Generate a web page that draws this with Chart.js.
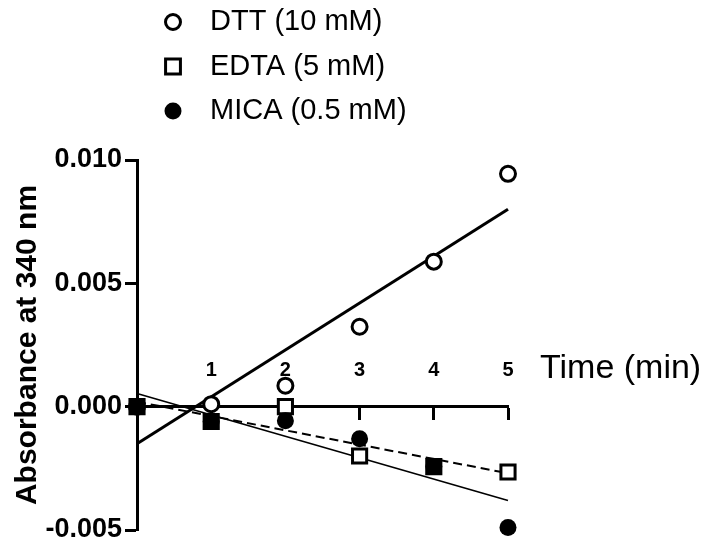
<!DOCTYPE html>
<html>
<head>
<meta charset="utf-8">
<script src="https://cdn.jsdelivr.net/npm/chart.js@4"></script>
<style>
  body { margin: 0; background: #fff; }
  canvas { display: block; }
</style>
</head>
<body>
<canvas id="absChart" width="714" height="551"></canvas>
<script>
const times = [0, 1, 2, 3, 4, 5];
const dtt = [0, 0.0001, 0.00085, 0.00324, 0.00588, 0.00944];
const edta = [0, -0.0006, 0.0000, -0.0020, -0.00243, -0.00265];
const mica = [0, -0.0006, -0.00057, -0.0013, -0.00243, -0.0049];

// fitted lines, end points
const fitX = [0, 5];
const dttFit = [-0.0015, 0.0080];
const edtaFit = [0.0002, -0.0027];
const micaFit = [0.00053, -0.0038];

const yTicks = [-0.005, 0, 0.005, 0.010];
const xTitle = 'Time (min)';
const yTitle = 'Absorbance at 340 nm';
const legendLabels = ['DTT (10 mM)', 'EDTA (5 mM)', 'MICA (0.5 mM)'];

const FONT = 'Arial, "Liberation Sans", sans-serif';
const pts = (xs, ys) => xs.map((x, i) => ({ x, y: ys[i] }));

const markers = [
  { style: 'circle', radius: 7.5, border: 3, fill: '#fff' },
  { style: 'rect', radius: 10.5, border: 3, fill: '#fff' },
  { style: 'circle', radius: 8.5, border: 0, fill: '#000' }
];

// titles and the stacked legend that sit outside the plot
const overlay = {
  id: 'overlay',
  afterDraw(chart) {
    const ctx = chart.ctx;
    const { right } = chart.chartArea;
    const y0 = chart.scales.y.getPixelForValue(0);
    ctx.save();
    ctx.fillStyle = '#000';
    ctx.textBaseline = 'middle';
    ctx.textAlign = 'left';
    ctx.font = `34px ${FONT}`;
    ctx.fillText(xTitle, right + 32, y0 - 38);

    ctx.font = `29px ${FONT}`;
    legendLabels.forEach((label, i) => {
      const m = markers[i];
      const cx = 173, cy = 22 + i * 44.5;
      ctx.beginPath();
      if (m.style === 'rect') {
        const s = m.radius * Math.SQRT1_2;
        ctx.rect(cx - s, cy - s, 2 * s, 2 * s);
      } else {
        ctx.arc(cx, cy, m.radius, 0, Math.PI * 2);
      }
      ctx.fillStyle = m.fill;
      ctx.fill();
      if (m.border) {
        ctx.lineWidth = m.border;
        ctx.strokeStyle = '#000';
        ctx.stroke();
      }
      ctx.fillStyle = '#000';
      ctx.fillText(label, 210, cy);
    });
    ctx.restore();
  }
};

new Chart(document.getElementById('absChart'), {
  type: 'scatter',
  data: {
    datasets: [
      {
        label: 'DTT fit', data: pts(fitX, dttFit), showLine: true, pointRadius: 0,
        borderColor: '#000', borderWidth: 3, order: 6, clip: false
      },
      {
        label: 'EDTA fit', data: pts(fitX, edtaFit), showLine: true, pointRadius: 0,
        borderColor: '#000', borderWidth: 2, borderDash: [9, 5], order: 5, clip: false
      },
      {
        label: 'MICA fit', data: pts(fitX, micaFit), showLine: true, pointRadius: 0,
        borderColor: '#000', borderWidth: 1.6, order: 4, clip: false
      },
      {
        label: legendLabels[0], data: pts(times, dtt), pointStyle: 'circle',
        pointRadius: markers[0].radius, pointBorderWidth: markers[0].border,
        pointBorderColor: '#000', pointBackgroundColor: '#fff', order: 3, clip: false
      },
      {
        label: legendLabels[1], data: pts(times, edta), pointStyle: 'rect',
        pointRadius: 10, pointBorderWidth: 3, pointBorderColor: '#000',
        pointBackgroundColor: ['#000', '#000', '#fff', '#fff', '#000', '#fff'], order: 2, clip: false
      },
      {
        label: legendLabels[2], data: pts(times, mica), pointStyle: 'circle',
        pointRadius: markers[2].radius, pointBorderWidth: 0,
        pointBackgroundColor: '#000', order: 1, clip: false
      }
    ]
  },
  options: {
    responsive: false,
    animation: false,
    layout: { padding: { top: 160, right: 206, bottom: 21, left: 0 } },
    plugins: { legend: { display: false }, tooltip: { enabled: false } },
    scales: {
      x: {
        type: 'linear', min: 0, max: 5, position: { y: 0 },
        ticks: {
          stepSize: 1, color: '#000', padding: -60,
          font: { family: FONT, size: 20, weight: 'bold' },
          callback: (v) => (v === 0 ? '' : v)
        },
        grid: { drawOnChartArea: false, tickLength: 12, tickWidth: 3, tickColor: '#000' },
        border: { color: '#000', width: 3 }
      },
      y: {
        min: -0.005, max: 0.010,
        afterBuildTicks: (s) => { s.ticks = yTicks.map((v) => ({ value: v })); },
        afterFit: (s) => { s.width = 137; },
        ticks: {
          color: '#000', padding: 3,
          font: { family: FONT, size: 27, weight: 'bold' },
          callback: (v) => (Math.abs(v) < 1e-9 ? 0 : v).toFixed(3)
        },
        grid: { drawOnChartArea: false, tickLength: 12, tickWidth: 3, tickColor: '#000' },
        border: { color: '#000', width: 3 },
        title: {
          display: true, text: yTitle, color: '#000',
          font: { family: FONT, size: 30, weight: 'bold' },
          padding: { top: 10, bottom: 0 }
        }
      }
    }
  },
  plugins: [overlay]
});
</script>
</body>
</html>
